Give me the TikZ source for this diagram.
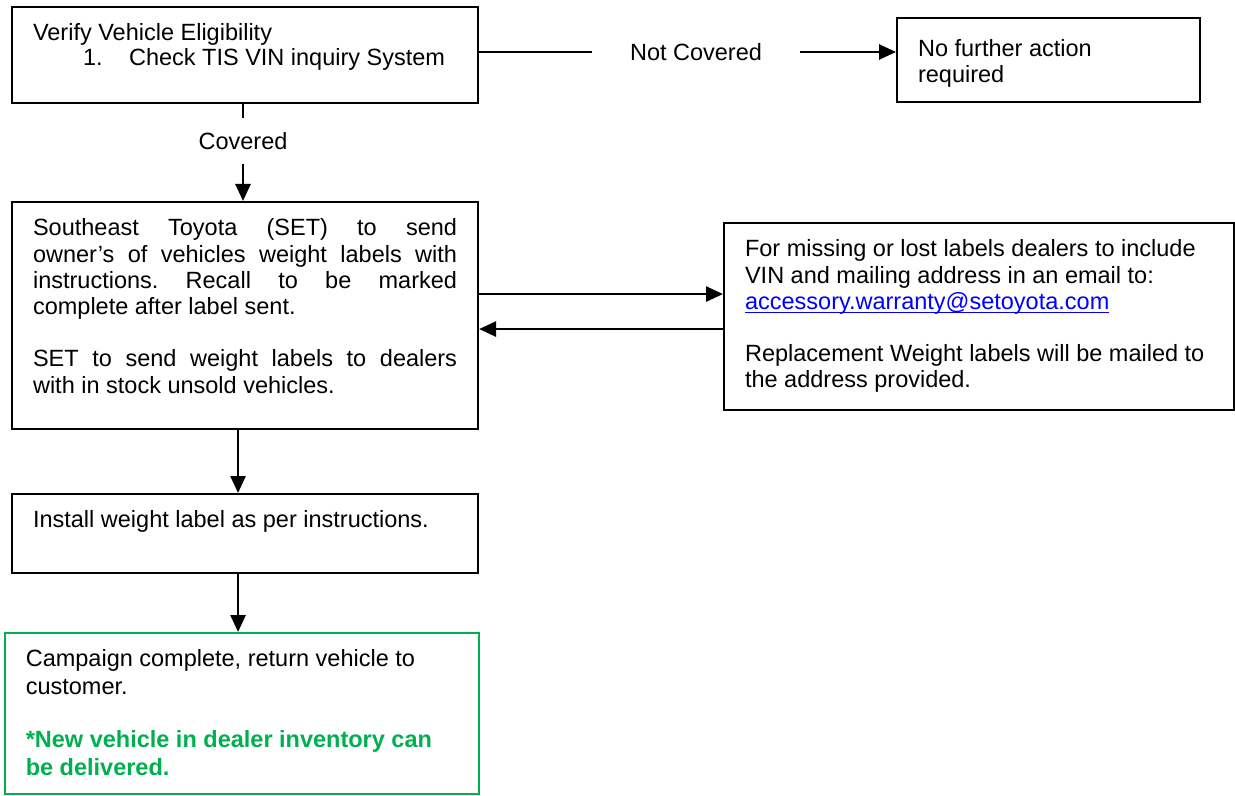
\documentclass[tikz,border=0pt]{standalone}
\usepackage{fontspec}
\setmainfont{Liberation Sans}
\usepackage{tikz}
\usetikzlibrary{arrows.meta}
\definecolor{campgreen}{RGB}{0, 176, 80}
\definecolor{linkblue}{RGB}{0, 0, 255}
\newcommand{\boxfont}{\fontsize{11.75}{13.1}\selectfont}
\newcommand{\boxtext}[3]{\parbox[t][#2][t]{#1}{\frenchspacing\strut #3}}

\begin{document}
\begin{tikzpicture}[x=0.5pt, y=-0.5pt, font=\boxfont,
    flowbox/.style={draw, line width=1.05pt, anchor=north west, inner xsep=10.5pt, inner ysep=7.75pt},
    gapnode/.style={inner sep=0pt},
    link/.style={line width=1.35pt},
    arrow/.style={line width=1.35pt, -{Triangle[length=8.5pt, width=7.5pt]}}]
  \useasboundingbox (0, 0) rectangle (1235, 796);

  \node[flowbox] (verify) at (11, 6)
    {\boxtext{212pt}{32.5pt}{Verify Vehicle Eligibility\\[-1pt]
     \hspace*{25pt}\makebox[23pt][l]{1.}Check TIS VIN inquiry System}};
  \node[flowbox, inner ysep=10pt] (nofurther) at (896, 17)
    {\boxtext{130.5pt}{22pt}{No further action\\required}};

  \node[gapnode, minimum width=104pt] (notcov) at (696, 52) {Not Covered};
  \draw[link] (verify.east |- notcov.west) -- (notcov.west);
  \draw[arrow] (notcov.east) -- (notcov.east -| nofurther.west);

  \node[flowbox] (sendlabels) at (11, 201)
    {\boxtext{212pt}{98pt}{Southeast Toyota (SET) to send\linebreak
     owner's of vehicles weight labels with\linebreak
     instructions. Recall to be marked\linebreak
     complete after label sent.\\[13.1pt]
     SET to send weight labels to dealers\linebreak
     with in stock unsold vehicles.}};

  \node[gapnode, minimum height=22.5pt] (covered) at (243, 141) {Covered};
  \draw[link] (verify.south -| covered.north) -- (covered.north);
  \draw[arrow] (covered.south) -- (covered.south |- sendlabels.north);

  \node[flowbox] (missing) at (723, 222)
    {\boxtext{234pt}{78pt}{For missing or lost labels dealers to include\\
     VIN and mailing address in an email to:\\
     {\color{linkblue}\underline{\smash{accessory.warranty@setoyota.com}}}\\[13.1pt]
     Replacement Weight labels will be mailed to\\
     the address provided.}};

  \coordinate (toright) at ([yshift=10.75pt]sendlabels.east);
  \coordinate (toleft) at ([yshift=-6.75pt]sendlabels.east);
  \draw[arrow] (toright) -- (toright -| missing.west);
  \draw[arrow] (toleft -| missing.west) -- (toleft);

  \node[flowbox] (install) at (11, 493)
    {\boxtext{212pt}{24pt}{Install weight label as per instructions.}};
  \node[flowbox, draw=campgreen, line width=0.8pt] (complete) at (4, 632)
    {\boxtext{216pt}{65pt}{Campaign complete, return vehicle to\\[0.6pt]
     customer.\\[13.7pt]
     {\bfseries\color{campgreen}*New vehicle in dealer inventory can\\[0.6pt]
     be delivered.}}};

  \coordinate (downa) at ([xshift=-3.5pt]sendlabels.south);
  \coordinate (downb) at (downa |- install.south);
  \draw[arrow] (downa) -- (downa |- install.north);
  \draw[arrow] (downb) -- (downb |- complete.north);

\end{tikzpicture}
\end{document}
